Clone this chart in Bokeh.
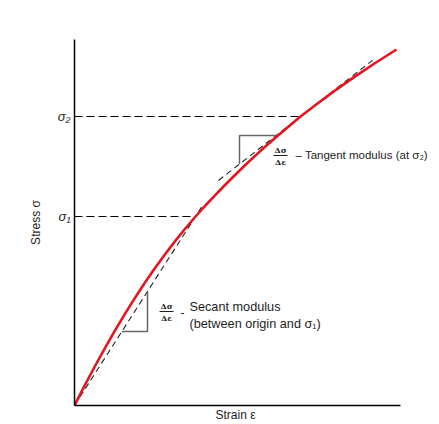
from bokeh.plotting import figure
from bokeh.models import Range1d, FixedTicker, Label, Title
from bokeh.embed import file_html
from bokeh.resources import INLINE
from bokeh.core.properties import value

# ---- data (arbitrary units) ----
strain = [0, 10, 20, 30, 40, 50, 60, 70, 80, 90, 100, 110, 121, 130, 140, 150, 160,
          170, 180, 190, 200, 213, 226, 240, 260, 280, 300, 322]
stress = [0, 19.6, 38.5, 56.7, 74.2, 90.9, 106.9, 122.2, 136.7, 150.5, 163.6, 176, 189,
          199, 209.6, 220, 230, 239.7, 249.1, 258.2, 267, 277.9, 289, 299.8, 314.6,
          328.6, 342, 356]
i_sigma1 = 12
i_sigma2 = 22
sigma_tick_labels = ["σ₁", "σ₂"]
strain_axis_max = 326         # the strain axis ends here
tangent_slope = 0.78          # slope of tangent at sigma2
tangent_extent = [144, 298]   # strain span of the dashed tangent
secant_extent = [0, 127]      # strain span of the dashed secant
secant_triangle = [47.4, 73]  # strain span of the small secant triangle
tangent_triangle = [165, 201.6]

FONT = "Liberation Sans"
RED = "#e3151e"
TXT = "#1e1e1e"

s1x, s1y = strain[i_sigma1], stress[i_sigma1]
s2x, s2y = strain[i_sigma2], stress[i_sigma2]
secant_slope = s1y / s1x


def secant(x):
    return secant_slope * x


def tangent(x):
    return s2y + tangent_slope * (x - s2x)


p = figure(width=439, height=424, output_backend="svg", toolbar_location=None,
           x_range=Range1d(0, 365), y_range=Range1d(0, 366),
           min_border_left=74, min_border_top=39, min_border_right=0,
           min_border_bottom=19)
p.outline_line_color = None
p.grid.visible = False
p.background_fill_color = "white"
p.border_fill_color = "white"

# axes
for ax in (p.xaxis[0], p.yaxis[0]):
    ax.axis_line_color = "black"
    ax.axis_line_width = 1.5
    ax.major_tick_out = 0
    ax.major_tick_in = 0
    ax.minor_tick_out = 0
    ax.minor_tick_in = 0
    ax.axis_label_text_font = FONT
    ax.axis_label_text_font_style = "normal"
    ax.axis_label_text_font_size = "12px"
    ax.axis_label_text_color = TXT

p.xaxis.ticker = FixedTicker(ticks=[])
p.xaxis.bounds = (0, strain_axis_max)
p.xaxis.major_label_standoff = 0
p.xaxis.axis_label = None

# x-axis title, centred under the (bounded) strain axis
p.add_layout(Title(text="Strain ε", align="left", offset=141, text_font=FONT,
                   text_font_size="12px", text_font_style="normal",
                   text_color=TXT, standoff=0), "below")

p.yaxis.ticker = FixedTicker(ticks=[s1y, s2y])
p.yaxis.major_label_overrides = {s1y: sigma_tick_labels[0], s2y: sigma_tick_labels[1]}
p.yaxis.major_label_text_font = FONT
p.yaxis.major_label_text_font_style = "italic"
p.yaxis.major_label_text_font_size = "13px"
p.yaxis.major_label_text_color = TXT
p.yaxis.major_label_standoff = 4
p.yaxis.axis_label = "Stress σ"
p.yaxis.axis_label_standoff = 12

# dashed level lines
p.line([0, s1x], [s1y, s1y], line_color="black", line_width=1.1, line_dash="8 4")
p.line([0, s2x], [s2y, s2y], line_color="black", line_width=1.1, line_dash="8 4")

# secant & tangent dashed lines
p.line(secant_extent, [secant(x) for x in secant_extent],
       line_color="#222222", line_width=1.1, line_dash="6 4")
p.line(tangent_extent, [tangent(x) for x in tangent_extent],
       line_color="#222222", line_width=1.1, line_dash="6 4")

# small triangles
a, b = secant_triangle
p.line([a, b, b], [secant(a), secant(a), secant(b)], line_color="#666666", line_width=1.5)
c, d = tangent_triangle
p.line([c, c, d], [tangent(c), tangent(d), tangent(d)], line_color="#666666", line_width=1.5)

# stress-strain curve
p.line(strain, stress, line_color=RED, line_width=2.6, line_join="round")


# fraction annotations
def fraction(xc, yc):
    p.text([xc], [yc + 6], text=["Δσ"], text_font=value("DejaVu Serif"),
           text_font_size="8px", text_font_style="bold", text_align="center",
           text_baseline="middle", text_color=TXT)
    p.text([xc], [yc - 6], text=["Δε"], text_font=value("DejaVu Serif"),
           text_font_size="8px", text_font_style="bold", text_align="center",
           text_baseline="middle", text_color=TXT)
    p.line([xc - 7, xc + 7], [yc, yc], line_color=TXT, line_width=1)


def label(x, y, txt, size):
    p.add_layout(Label(x=x, y=y, text=txt, text_font=FONT, text_font_size=size,
                       text_align="left", text_baseline="middle", text_color=TXT))


fraction(206, 250)
label(221, 251, "– Tangent modulus (at σ₂)", "11.5px")

fraction(92, 94)
label(106, 93, "-", "12px")
label(115, 99, "Secant modulus", "12.7px")
label(115, 82, "(between origin and σ₁)", "12.7px")

open("out.html", "w").write(file_html(p, INLINE))
